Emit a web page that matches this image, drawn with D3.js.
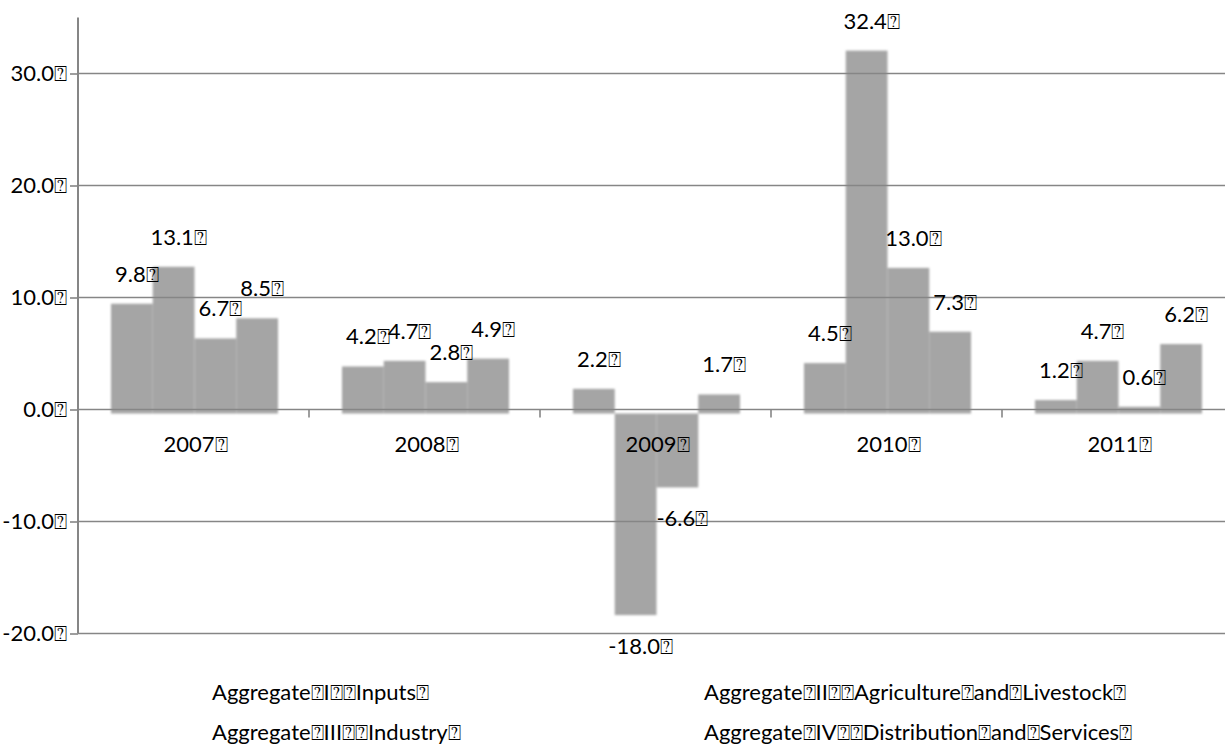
<!DOCTYPE html>
<html>
<head>
<meta charset="utf-8">
<script src="https://cdn.jsdelivr.net/npm/d3@7"></script>
<style>
  html, body { margin: 0; padding: 0; background: #fff; }
  svg { display: block; }
  text { font-family: Lato, "Open Sans", sans-serif; fill: #000; }
</style>
</head>
<body>
<svg id="chart" width="1225" height="752"></svg>
<script>
// Glyph that stands in for characters the source font could not show
const BOX = "\u2370";

const years = ["2007", "2008", "2009", "2010", "2011"];
const seriesNames = [
  "Aggregate" + BOX + "I" + BOX + BOX + "Inputs" + BOX,
  "Aggregate" + BOX + "II" + BOX + BOX + "Agriculture" + BOX + "and" + BOX + "Livestock" + BOX,
  "Aggregate" + BOX + "III" + BOX + BOX + "Industry" + BOX,
  "Aggregate" + BOX + "IV" + BOX + BOX + "Distribution" + BOX + "and" + BOX + "Services" + BOX
];
const inputs      = [9.8, 4.2, 2.2, 4.5, 1.2];
const agriculture = [13.1, 4.7, -18.0, 32.4, 4.7];
const industry    = [6.7, 2.8, -6.6, 13.0, 0.6];
const distribution = [8.5, 4.9, 1.7, 7.3, 6.2];
const yTicks = [-20, -10, 0, 10, 20, 30];

const seriesValues = [inputs, agriculture, industry, distribution];

const FS = 22;
const svg = d3.select("#chart");
const plotLeft = 78, plotRight = 1233, plotTop = 17.5, plotBottom = 633.5;

const x = d3.scaleBand().domain(years).range([plotLeft, plotRight])
  .paddingInner(0.277).paddingOuter(0.1385);
const xs = d3.scaleBand().domain(d3.range(4)).range([0, x.bandwidth()]);
const y = d3.scaleLinear().domain([-20, 35]).range([plotBottom, plotTop]);

const fmt = v => v.toFixed(1) + BOX;

// soft bar edges
const defs = svg.append("defs");
defs.append("filter").attr("id", "soft")
  .attr("x", "-20%").attr("y", "-20%").attr("width", "140%").attr("height", "140%")
  .append("feGaussianBlur").attr("stdDeviation", 1.3);

const rows = [];
years.forEach((yr, i) => seriesValues.forEach((vals, s) => rows.push({ yr, s, v: vals[i] })));

// bars
svg.append("g").attr("filter", "url(#soft)").attr("transform", "translate(1,4)")
  .selectAll("rect").data(rows).join("rect")
  .attr("x", d => x(d.yr) + xs(d.s))
  .attr("width", xs.bandwidth())
  .attr("y", d => y(Math.max(0, d.v)))
  .attr("height", d => Math.abs(y(d.v) - y(0)))
  .attr("fill", "#a5a5a5");

// gridlines, drawn over the bars
const grid = svg.append("g").attr("stroke", "#868686").attr("stroke-width", 1.6);
grid.selectAll("line").data(yTicks).join("line")
  .attr("x1", plotLeft).attr("x2", 1225)
  .attr("y1", d => y(d)).attr("y2", d => y(d));

// y axis
const yAxis = svg.append("g").attr("transform", `translate(${plotLeft},0)`)
  .call(d3.axisLeft(y).tickValues(yTicks).tickSize(8).tickPadding(3).tickFormat(fmt));
yAxis.select(".domain").remove();
yAxis.selectAll(".tick line").attr("stroke", "#868686").attr("stroke-width", 1.6);
yAxis.selectAll(".tick text").attr("font-size", FS).attr("font-family", "Lato").attr("fill", "#000");
svg.append("line").attr("x1", plotLeft).attr("x2", plotLeft).attr("y1", plotTop).attr("y2", plotBottom)
  .attr("stroke", "#868686").attr("stroke-width", 2);

// category ticks on the zero line
const bounds = d3.range(1, years.length).map(i => plotLeft + i * x.step());
svg.append("g").selectAll("line").data(bounds).join("line")
  .attr("x1", d => d).attr("x2", d => d).attr("y1", y(0)).attr("y2", y(0) + 8)
  .attr("stroke", "#868686").attr("stroke-width", 1.6);

// category labels
svg.append("g").selectAll("text").data(years).join("text")
  .attr("x", d => x(d) + x.bandwidth() / 2 + 2)
  .attr("y", y(0) + 42)
  .attr("text-anchor", "middle").attr("font-size", FS)
  .text(d => d + BOX);

// value labels
svg.append("g").selectAll("text").data(rows).join("text")
  .attr("x", d => x(d.yr) + xs(d.s) + xs.bandwidth() / 2 + 6)
  .attr("y", d => d.v >= 0 ? y(d.v) - 18 : y(d.v) + 43)
  .attr("text-anchor", "middle").attr("font-size", FS)
  .text(d => fmt(d.v));

// legend
const legendPos = [[212, 700], [704, 700], [212, 740], [704, 740]];
svg.append("g").selectAll("text").data(seriesNames).join("text")
  .attr("x", (d, i) => legendPos[i][0])
  .attr("y", (d, i) => legendPos[i][1])
  .attr("font-size", FS)
  .text(d => d);
</script>
</body>
</html>
